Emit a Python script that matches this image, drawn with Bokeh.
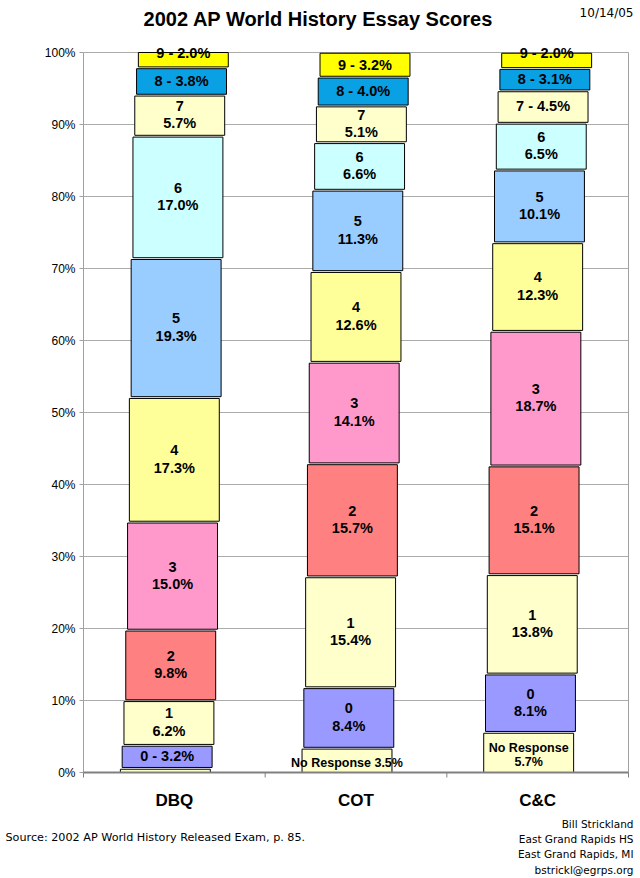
from bokeh.plotting import figure
from bokeh.models import Range1d, ColumnDataSource
from bokeh.core.properties import value
from bokeh.embed import file_html
from bokeh.resources import INLINE

# ---------------- data ----------------
categories = ["DBQ", "COT", "C&C"]
scores = ["No Response", "0", "1", "2", "3", "4", "5", "6", "7", "8", "9"]

dbq_pct = [0.7, 3.2, 6.2, 9.8, 15.0, 17.3, 19.3, 17.0, 5.7, 3.8, 2.0]
cot_pct = [3.5, 8.4, 15.4, 15.7, 14.1, 12.6, 11.3, 6.6, 5.1, 4.0, 3.2]
cc_pct = [5.7, 8.1, 13.8, 15.1, 18.7, 12.3, 10.1, 6.5, 4.5, 3.1, 2.0]

# how each segment's label is written: none / inline / stacked / top
dbq_style = ["none", "inline", "stacked", "stacked", "stacked", "stacked",
             "stacked", "stacked", "stacked", "inline", "top"]
cot_style = ["inline", "stacked", "stacked", "stacked", "stacked", "stacked",
             "stacked", "stacked", "stacked", "inline", "inline"]
cc_style = ["stacked", "stacked", "stacked", "stacked", "stacked", "stacked",
            "stacked", "stacked", "inline", "inline", "top"]

score_colors = ["#FFFFCC", "#9999FF", "#FFFFCC", "#FF8080", "#FF99CC", "#FFFF99",
                "#99CCFF", "#CCFFFF", "#FFFFCC", "#0AA0E4", "#FFFF00"]

y_ticks = [0, 10, 20, 30, 40, 50, 60, 70, 80, 90, 100]
y_tick_labels = ["0%", "10%", "20%", "30%", "40%", "50%", "60%", "70%", "80%", "90%", "100%"]

title_text = "2002 AP World History Essay Scores"
date_text = "10/14/05"
source_text = "Source: 2002 AP World History Released Exam, p. 85."
credit_lines = ["Bill Strickland", "East Grand Rapids HS", "East Grand Rapids, MI", "bstrickl@egrps.org"]

series = [dbq_pct, cot_pct, cc_pct]
styles = [dbq_style, cot_style, cc_style]

# ---------------- layout ----------------
W, H = 640, 878
NCAT = len(categories)
PLOT_L, PLOT_R = 83, 628      # pixel edges of the plotting area
PLOT_T, PLOT_B = 52, 772      # pixel rows of 100% and 0%
XPX = (PLOT_R - PLOT_L) / NCAT
YPX = (PLOT_B - PLOT_T) / 100.0

def fx(px):
    return (px - PLOT_L) / XPX

def fy(py):
    return (PLOT_B - py) / YPX

BAR_W = 0.495
SHEAR = 0.0099   # horizontal step between stacked segments
GAP = 0.25       # small white gap between segments
FONT = "Liberation Sans"

p = figure(width=W, height=H, x_range=Range1d(fx(0), fx(W)), y_range=Range1d(fy(H), fy(0)),
           output_backend="svg", toolbar_location=None,
           min_border=0, min_border_left=0, min_border_right=0,
           min_border_top=0, min_border_bottom=0)
p.outline_line_color = None
p.background_fill_color = "white"
p.border_fill_color = "white"
p.xaxis.visible = False
p.yaxis.visible = False
p.xgrid.visible = False
p.ygrid.visible = False

# gridlines and plot-area border
grid_y = y_ticks[1:]
p.segment(x0=[0] * len(grid_y), y0=grid_y, x1=[NCAT] * len(grid_y), y1=grid_y,
          line_color="#ABABAB", line_width=1)
p.segment(x0=[0, NCAT], y0=[0, 0], x1=[0, NCAT], y1=[100, 100],
          line_color="#A0A0A0", line_width=1)
# y tick marks and labels
p.segment(x0=[fx(PLOT_L - 4)] * len(y_ticks), y0=y_ticks, x1=[0] * len(y_ticks), y1=y_ticks,
          line_color="#A0A0A0", line_width=1)
p.text(x=[fx(PLOT_L - 8)] * len(y_ticks), y=y_ticks, text=y_tick_labels,
       text_align="right", text_baseline="middle", text_font=value(FONT),
       text_font_size="12px", text_color="#000000")

# ---------------- bars ----------------
centers = [i + 0.5 for i in range(NCAT)]
bars = dict(left=[], right=[], bottom=[], top=[], color=[])
lab_inline = dict(x=[], y=[], text=[])
lab_top = dict(x=[], y=[], text=[])
lab_st1 = dict(x=[], y=[], text=[])
lab_st2 = dict(x=[], y=[], text=[])
lab_nr1 = dict(x=[], y=[], text=[])
lab_nr2 = dict(x=[], y=[], text=[])
lab_nr_inline = dict(x=[], y=[], text=[])

nseg = len(scores)
for ci, (vals, sty) in enumerate(zip(series, styles)):
    cum = 0.0
    for k, v in enumerate(vals):
        c = centers[ci] + (k - (nseg - 1) / 2) * SHEAR
        b, t = cum, cum + v
        cum = t
        bars["left"].append(c - BAR_W / 2)
        bars["right"].append(c + BAR_W / 2)
        bars["bottom"].append(b)
        bars["top"].append(t - GAP if k < nseg - 1 else t)
        bars["color"].append(score_colors[k])
        pct = f"{v:.1f}%"
        name = scores[k]
        mid = (b + t) / 2
        s = sty[k]
        if s == "none":
            continue
        if name == "No Response":
            if s == "stacked":
                lab_nr1["x"].append(c); lab_nr1["y"].append(mid); lab_nr1["text"].append(name)
                lab_nr2["x"].append(c); lab_nr2["y"].append(mid); lab_nr2["text"].append(pct)
            else:
                lab_nr_inline["x"].append(c); lab_nr_inline["y"].append(mid)
                lab_nr_inline["text"].append(f"{name} {pct}")
        elif s == "stacked":
            lab_st1["x"].append(c); lab_st1["y"].append(mid); lab_st1["text"].append(name)
            lab_st2["x"].append(c); lab_st2["y"].append(mid); lab_st2["text"].append(pct)
        elif s == "inline":
            lab_inline["x"].append(c); lab_inline["y"].append(mid); lab_inline["text"].append(f"{name} - {pct}")
        elif s == "top":
            lab_top["x"].append(c); lab_top["y"].append(t); lab_top["text"].append(f"{name} - {pct}")

p.quad(left="left", right="right", bottom="bottom", top="top", fill_color="color",
       line_color="#000000", line_width=1, source=ColumnDataSource(bars))

# bottom axis line and category separators
seps = list(range(NCAT + 1))
p.segment(x0=seps, y0=[0] * len(seps), x1=seps, y1=[fy(PLOT_B + 5)] * len(seps),
          line_color="#808080", line_width=1)
p.segment(x0=[0], y0=[0], x1=[NCAT], y1=[0], line_color="#808080", line_width=2)

def add_text(d, size, yoff=0):
    if not d["x"]:
        return
    p.text(x="x", y="y", text="text", source=ColumnDataSource(d),
           text_align="center", text_baseline="middle",
           text_font=value(FONT), text_font_style="bold", text_font_size=size,
           text_color="#000000", y_offset=yoff)

add_text(lab_inline, "14.5px")
add_text(lab_top, "14.5px")
add_text(lab_st1, "14.5px", -8.7)
add_text(lab_st2, "14.5px", 8.7)
add_text(lab_nr_inline, "12.5px", 3)
add_text(lab_nr1, "12.5px", -4)
add_text(lab_nr2, "12.5px", 10)

# category labels
p.text(x=centers, y=[fy(800)] * NCAT, text=categories, text_align="center",
       text_baseline="middle", text_font=value(FONT), text_font_style="bold",
       text_font_size="17px", text_color="#000000")

# ---------------- titles and notes ----------------
p.text(x=[fx(318)], y=[fy(18)], text=[title_text], text_align="center",
       text_baseline="middle", text_font=value(FONT), text_font_style="bold",
       text_font_size="20px", text_color="#000000")
p.text(x=[fx(633)], y=[fy(12)], text=[date_text], text_align="right",
       text_baseline="middle", text_font=value("DejaVu Sans"),
       text_font_size="12px", text_color="#000000")
p.text(x=[fx(5)], y=[fy(837)], text=[source_text], text_align="left",
       text_baseline="middle", text_font=value("DejaVu Sans"),
       text_font_size="11.2px", text_color="#000000")
credit_y = [fy(823 + i * 15.4) for i in range(len(credit_lines))]
p.text(x=[fx(633)] * len(credit_lines), y=credit_y, text=credit_lines, text_align="right",
       text_baseline="middle", text_font=value("DejaVu Sans"),
       text_font_size="10.5px", text_color="#000000")

open("out.html", "w").write(file_html(p, INLINE))
